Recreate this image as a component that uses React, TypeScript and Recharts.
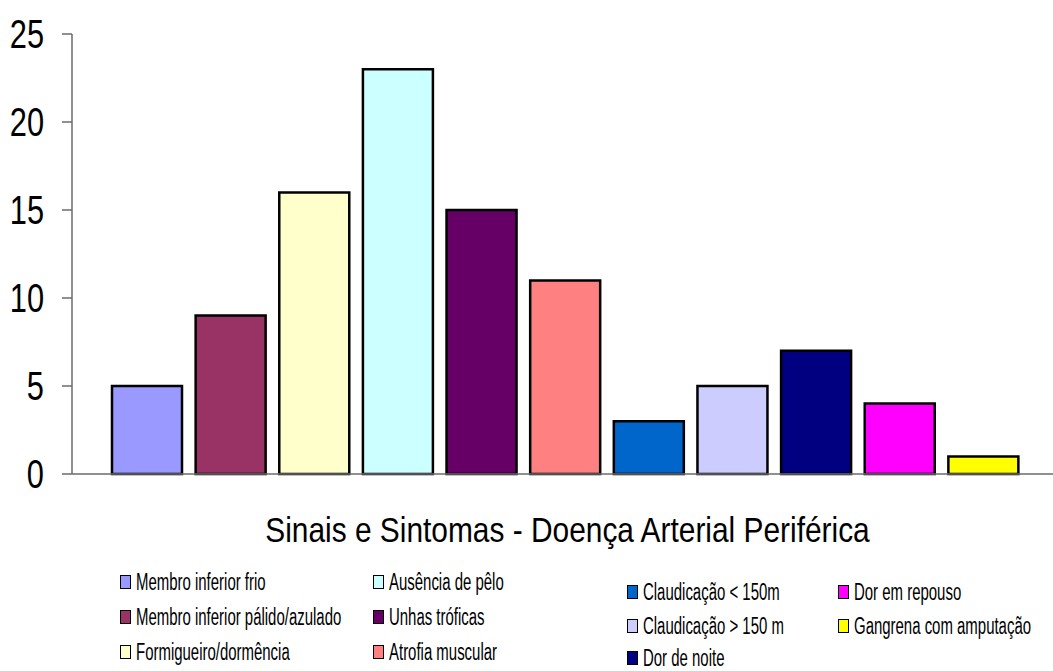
import { BarChart, Bar, XAxis, YAxis, Cell } from "recharts";

const CATEGORIES = [
	"Membro inferior frio",
	"Membro inferior pálido/azulado",
	"Formigueiro/dormência",
	"Ausência de pêlo",
	"Unhas tróficas",
	"Atrofia muscular",
	"Claudicação < 150m",
	"Claudicação > 150 m",
	"Dor de noite",
	"Dor em repouso",
	"Gangrena com amputação",
];

const VALUES = [5, 9, 16, 23, 15, 11, 3, 5, 7, 4, 1];

const Y_TICKS = [0, 5, 10, 15, 20, 25];

const TITLE = "Sinais e Sintomas - Doença Arterial Periférica";

const COLORS = [
	"#9999FF",
	"#993366",
	"#FFFFCC",
	"#CCFFFF",
	"#660066",
	"#FF8080",
	"#0066CC",
	"#CCCCFF",
	"#000080",
	"#FF00FF",
	"#FFFF00",
];

const FONT = "'Liberation Sans', Arial, sans-serif";
const AXIS_GREY = "#6b6b6b";

// legend columns: which items, x of the swatch, y centre of each row
const LEGEND_COLUMNS = [
	{ items: [0, 1, 2], x: 120, rows: [582, 617, 652] },
	{ items: [3, 4, 5], x: 373, rows: [582, 617, 652] },
	{ items: [6, 7, 8], x: 627, rows: [592, 626, 658] },
	{ items: [9, 10], x: 838, rows: [592, 626] },
];

// the original's text is squeezed sideways, so scale the glyphs
function squeeze(cx: number, sx: number) {
	return `translate(${cx} 0) scale(${sx} 1) translate(${-cx} 0)`;
}

function YTick(props: any) {
	const { x, y, payload } = props;
	const fs = 40;
	return (
		<text
			x={x}
			y={y + fs * 0.355}
			textAnchor="end"
			fill="#000"
			fontSize={fs}
			fontFamily={FONT}
			transform={squeeze(x, 0.77)}
		>
			{payload.value}
		</text>
	);
}

function TitleLabel(props: any) {
	const vb = props.viewBox;
	const cx = vb.x + vb.width / 2 + 5;
	const y = vb.y + vb.height - 22;
	return (
		<text
			x={cx}
			y={y}
			textAnchor="middle"
			fill="#000"
			fontSize={36}
			fontFamily={FONT}
			transform={squeeze(cx, 0.83)}
		>
			{TITLE}
		</text>
	);
}

function ChartLegend() {
	return (
		<>
			{LEGEND_COLUMNS.map((col) =>
				col.items.map((idx, r) => (
					<div
						key={idx}
						style={{
							position: "absolute",
							left: col.x,
							top: col.rows[r] - 13,
							height: 26,
							display: "flex",
							alignItems: "center",
							fontFamily: FONT,
							fontSize: 23,
							lineHeight: "26px",
							color: "#000",
							whiteSpace: "nowrap",
						}}
					>
						<span
							style={{
								display: "inline-block",
								width: 9,
								height: 12,
								background: COLORS[idx],
								border: "1.5px solid #000",
								marginRight: 5,
								flex: "none",
							}}
						/>
						<span
							style={{
								display: "inline-block",
								transform: "scaleX(0.65)",
								transformOrigin: "left center",
							}}
						>
							{CATEGORIES[idx]}
						</span>
					</div>
				))
			)}
		</>
	);
}

export default function App() {
	const data = CATEGORIES.map((name, i) => ({ name, value: VALUES[i] }));

	return (
		<div
			style={{
				position: "absolute",
				left: 0,
				top: 0,
				width: 1053,
				height: 671,
				background: "#fff",
				overflow: "hidden",
			}}
		>
			<BarChart
				width={1053}
				height={671}
				data={data}
				margin={{ top: 34, right: 0, left: 0, bottom: 107 }}
				barCategoryGap={7}
			>
				<XAxis
					dataKey="name"
					height={90}
					tick={false}
					tickLine={false}
					axisLine={{ stroke: AXIS_GREY, strokeWidth: 1.5 }}
					padding={{ left: 33, right: 28 }}
					label={<TitleLabel />}
				/>
				<YAxis
					width={72}
					domain={[0, 25]}
					ticks={Y_TICKS}
					interval={0}
					tickSize={10}
					tickMargin={18}
					tickLine={{ stroke: AXIS_GREY, strokeWidth: 1.5 }}
					axisLine={{ stroke: AXIS_GREY, strokeWidth: 1.5 }}
					tick={<YTick />}
				/>
				<Bar
					dataKey="value"
					stroke="#000"
					strokeWidth={2.5}
					isAnimationActive={false}
				>
					{data.map((_, i) => (
						<Cell key={i} fill={COLORS[i]} />
					))}
				</Bar>
			</BarChart>
			<ChartLegend />
		</div>
	);
}
